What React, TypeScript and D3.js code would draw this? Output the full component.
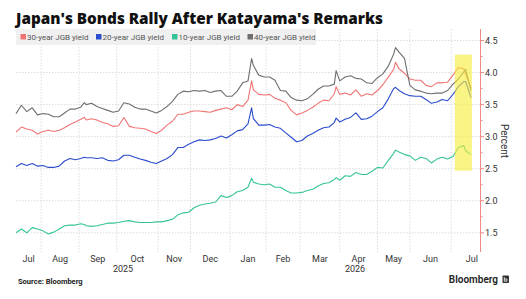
import React from "react";
import * as d3 from "d3";

// Trading-session index (0 = first session shown) for each sampled observation
const sessionDays = [
  0, 3, 6, 9, 12, 15, 18, 21, 24, 27, 30, 33, 36, 38, 39, 42, 45, 48, 51, 54, 57, 60, 63, 66, 69, 72, 75, 78, 81, 84, 87,
  90, 93, 96, 99, 102, 105, 108, 111, 114, 117, 120, 123, 126, 129, 131, 132, 135, 138, 141, 144, 147, 150, 153, 156, 159,
  162, 165, 168, 171, 174, 177, 178, 180, 183, 186, 189, 192, 195, 198, 201, 204, 207, 210, 211, 213, 216, 219, 222, 225,
  228, 231, 234, 237, 240, 243, 246, 249, 250, 253,
];

const jgb30 = [
  3.07, 3.15, 3.12, 3.1, 3.04, 3.08, 3.1, 3.08, 3.1, 3.14, 3.19, 3.23, 3.27, 3.3, 3.26, 3.28, 3.26, 3.22, 3.2, 3.16, 3.17,
  3.3, 3.16, 3.14, 3.13, 3.12, 3.08, 3.05, 3.1, 3.18, 3.24, 3.35, 3.35, 3.38, 3.4, 3.4, 3.39, 3.38, 3.41, 3.43, 3.45, 3.42,
  3.5, 3.47, 3.57, 3.87, 3.73, 3.66, 3.65, 3.66, 3.6, 3.57, 3.53, 3.41, 3.34, 3.37, 3.41, 3.46, 3.52, 3.57, 3.56, 3.67, 3.78,
  3.66, 3.68, 3.65, 3.73, 3.63, 3.67, 3.65, 3.72, 3.81, 3.93, 4.05, 4.16, 4.06, 3.99, 3.9, 3.88, 3.88, 3.8, 3.78, 3.84, 3.84,
  3.85, 3.96, 4.08, 4.06, 3.98, 3.76,
];

const jgb20 = [
  2.53, 2.58, 2.55, 2.58, 2.54, 2.55, 2.52, 2.52, 2.54, 2.62, 2.66, 2.64, 2.66, 2.68, 2.67, 2.67, 2.66, 2.67, 2.63, 2.62,
  2.64, 2.71, 2.71, 2.68, 2.65, 2.63, 2.6, 2.58, 2.62, 2.66, 2.72, 2.83, 2.83, 2.88, 2.92, 2.95, 2.94, 2.95, 2.97, 3.01, 2.98,
  3.03, 3.09, 3.11, 3.2, 3.45, 3.28, 3.18, 3.18, 3.19, 3.15, 3.13, 3.06, 2.99, 2.92, 2.94, 3.01, 3.05, 3.1, 3.14, 3.15, 3.22,
  3.29, 3.23, 3.27, 3.3, 3.37, 3.27, 3.28, 3.32, 3.39, 3.45, 3.59, 3.75, 3.77, 3.72, 3.67, 3.64, 3.63, 3.63, 3.58, 3.52, 3.54,
  3.58, 3.56, 3.66, 3.78, 3.86, 3.86, 3.61,
];

const jgb10 = [
  1.5, 1.56, 1.5, 1.58, 1.56, 1.53, 1.48, 1.51, 1.56, 1.61, 1.62, 1.62, 1.64, 1.63, 1.61, 1.6, 1.61, 1.63, 1.65, 1.65, 1.66,
  1.68, 1.69, 1.67, 1.66, 1.66, 1.66, 1.67, 1.67, 1.69, 1.71, 1.78, 1.81, 1.82, 1.89, 1.93, 1.95, 1.96, 1.98, 2.08, 2.05,
  2.08, 2.14, 2.16, 2.21, 2.35, 2.29, 2.26, 2.25, 2.26, 2.21, 2.21, 2.16, 2.12, 2.12, 2.13, 2.16, 2.18, 2.23, 2.27, 2.28,
  2.33, 2.36, 2.32, 2.39, 2.38, 2.44, 2.41, 2.41, 2.46, 2.52, 2.51, 2.63, 2.74, 2.79, 2.76, 2.72, 2.7, 2.63, 2.68, 2.66, 2.59,
  2.65, 2.68, 2.65, 2.69, 2.83, 2.86, 2.78, 2.72,
];

const jgb40 = [
  3.36, 3.49, 3.39, 3.45, 3.34, 3.36, 3.35, 3.31, 3.31, 3.37, 3.43, 3.43, 3.46, 3.53, 3.5, 3.52, 3.47, 3.44, 3.41, 3.38, 3.4,
  3.53, 3.51, 3.46, 3.43, 3.43, 3.4, 3.37, 3.41, 3.47, 3.55, 3.66, 3.71, 3.7, 3.72, 3.71, 3.72, 3.69, 3.71, 3.72, 3.63, 3.63,
  3.71, 3.84, 3.87, 4.22, 4.11, 3.96, 3.93, 3.93, 3.88, 3.72, 3.71, 3.61, 3.57, 3.56, 3.59, 3.66, 3.74, 3.79, 3.79, 3.82,
  4.03, 3.87, 3.93, 3.95, 3.91, 3.9, 3.84, 3.83, 3.92, 3.98, 4.1, 4.29, 4.39, 4.32, 4.22, 3.8, 3.73, 3.71, 3.68, 3.67, 3.68,
  3.68, 3.72, 3.82, 3.9, 4.01, 4.05, 3.72,
];

// Month segments on the session axis (first one is the visible part of July 2025)
const monthLabels = ["Jul", "Aug", "Sep", "Oct", "Nov", "Dec", "Jan", "Feb", "Mar", "Apr", "May", "Jun", "Jul"];
const monthSessions = [14, 21, 21, 23, 18, 22, 20, 19, 22, 21, 18, 23, 23];
const yearLabels = ["2025", "2026"];
const yearStartMonth = [0, 6];
const totalSessions = 258;

const yTicks = [1.5, 2.0, 2.5, 3.0, 3.5, 4.0, 4.5];
const yMinorTicks = [1.75, 2.25, 2.75, 3.25, 3.75, 4.25];

// Highlighted window after the remarks
const highlightSessions = [244, 253.5];
const highlightRange = [2.47, 4.28];

const series = [
  { name: "30-year JGB yield", values: jgb30, color: "#f07474" },
  { name: "20-year JGB yield", values: jgb20, color: "#2b4ccc" },
  { name: "10-year JGB yield", values: jgb10, color: "#35c39a" },
  { name: "40-year JGB yield", values: jgb40, color: "#6f6f6f" },
];

const W = 526;
const H = 299;
const plot = { left: 16, right: 480, top: 29, bottom: 252 };
const FONT = "Roboto, 'Open Sans', sans-serif";

export default function App() {
  const x = d3.scaleLinear().domain([0, totalSessions]).range([plot.left, plot.right]);
  const y = d3.scaleLinear().domain([1.2, 4.68]).range([plot.bottom, plot.top]);

  const starts: number[] = [];
  monthSessions.reduce((acc, n) => {
    starts.push(acc);
    return acc + n;
  }, 0);
  const ends = starts.map((s, i) => s + monthSessions[i]);
  const gridSessions = starts.slice(1);

  const line = d3
    .line<number>()
    .x((_, i) => x(sessionDays[i]))
    .y((v) => y(v));

  const yearCenters = yearStartMonth.map((m, i) => {
    const a = starts[m];
    const b = i + 1 < yearStartMonth.length ? starts[yearStartMonth[i + 1]] : totalSessions;
    return x((a + b) / 2);
  });

  const legendX = [20.5, 96, 172, 247.5];

  return (
    <svg
      width={W}
      height={H}
      viewBox={`0 0 ${W} ${H}`}
      style={{ position: "absolute", left: 0, top: 0, background: "#fff" }}
      fontFamily={FONT}
    >
      <rect width={W} height={H} fill="#fff" />
      <text
        x={16}
        y={23.5}
        fontSize={15.5}
        fontWeight={800}
        fill="#111"
        fontFamily="'Open Sans', Roboto, sans-serif"
        textLength={367}
        lengthAdjust="spacingAndGlyphs"
      >
        Japan's Bonds Rally After Katayama's Remarks
      </text>

      {/* grid */}
      <g stroke="#d4d4d4" strokeWidth={0.8} strokeDasharray="1.5,1.5">
        {yTicks.map((t) => (
          <line key={"h" + t} x1={plot.left} x2={plot.right} y1={y(t)} y2={y(t)} />
        ))}
        {gridSessions.map((s) => (
          <line key={"v" + s} x1={x(s)} x2={x(s)} y1={plot.top} y2={plot.bottom} />
        ))}
      </g>

      {/* legend */}
      <rect x={16} y={29} width={300} height={16} fill="#f0f0f0" />
      {series.map((s, i) => (
        <g key={s.name}>
          <rect x={legendX[i]} y={34} width={5.5} height={5.5} fill={s.color} />
          <text x={legendX[i] + 6.5} y={40} fontSize={8} fill="#555">
            {s.name}
          </text>
        </g>
      ))}

      {/* series */}
      {series.map((s) => (
        <path key={s.name} d={line(s.values) || ""} fill="none" stroke={s.color} strokeWidth={1.1} strokeLinejoin="round" />
      ))}

      {/* highlight */}
      <rect
        x={x(highlightSessions[0])}
        y={y(highlightRange[1])}
        width={x(highlightSessions[1]) - x(highlightSessions[0])}
        height={y(highlightRange[0]) - y(highlightRange[1])}
        fill="#f6ee38"
        opacity={0.62}
      />

      {/* right axis */}
      <line x1={plot.right + 0.5} x2={plot.right + 0.5} y1={plot.top} y2={plot.bottom} stroke="#f28a8a" strokeWidth={1} />
      {yTicks.map((t) => (
        <g key={"t" + t}>
          <line x1={plot.right + 0.5} x2={plot.right + 4} y1={y(t)} y2={y(t)} stroke="#f28a8a" />
          <text x={plot.right + 5} y={y(t)} dy="0.35em" fontSize={9} fill="#333">
            {t.toFixed(1)}
          </text>
        </g>
      ))}
      {yMinorTicks.map((t) => (
        <line key={"m" + t} x1={plot.right + 0.5} x2={plot.right + 2.5} y1={y(t)} y2={y(t)} stroke="#f28a8a" />
      ))}
      <text
        transform={`translate(${504},${141}) rotate(90)`}
        textAnchor="middle"
        dy="0.35em"
        fontSize={10}
        fill="#333"
      >
        Percent
      </text>

      {/* x axis labels */}
      {monthLabels.map((m, i) => (
        <text key={"mo" + i} x={x((starts[i] + ends[i]) / 2)} y={261.5} textAnchor="middle" fontSize={9} fill="#333">
          {m}
        </text>
      ))}
      {yearLabels.map((yr, i) => (
        <text key={yr} x={yearCenters[i]} y={271.5} textAnchor="middle" fontSize={9} fill="#333">
          {yr}
        </text>
      ))}

      {/* footer */}
      <text x={18} y={283.5} fontSize={7.5} fontWeight={700} fill="#222">
        Source: Bloomberg
      </text>
      <text x={498} y={283} textAnchor="end" fontSize={10} fontWeight={600} fill="#222">
        Bloomberg
      </text>
      <rect x={502.5} y={275.5} width={6.5} height={7.5} fill="#333" rx={0.8} />
      <path d="M504.3 277.2 v4 M504.3 279 h2.6 M506.9 279 v2.2 h-2.6" stroke="#fff" strokeWidth={0.8} fill="none" />
    </svg>
  );
}
